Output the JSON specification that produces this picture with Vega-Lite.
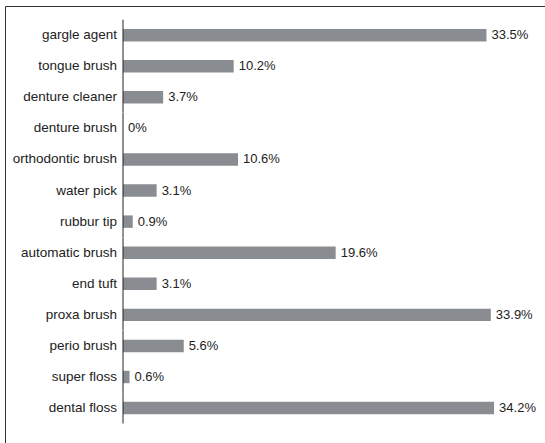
{
  "$schema": "https://vega.github.io/schema/vega-lite/v6.json",
  "width": 543,
  "height": 440,
  "autosize": {"type": "none"},
  "padding": {"left": 5, "top": 6, "right": -3, "bottom": -3},
  "background": "white",
  "config": {
    "view": {"stroke": "#333333", "strokeWidth": 1},
    "font": "Liberation Sans"
  },
  "data": {
    "values": [
      {"item": "gargle agent", "pct": 33.5, "label": "33.5%"},
      {"item": "tongue brush", "pct": 10.2, "label": "10.2%"},
      {"item": "denture cleaner", "pct": 3.7, "label": "3.7%"},
      {"item": "denture brush", "pct": 0, "label": "0%"},
      {"item": "orthodontic brush", "pct": 10.6, "label": "10.6%"},
      {"item": "water pick", "pct": 3.1, "label": "3.1%"},
      {"item": "rubbur tip", "pct": 0.9, "label": "0.9%"},
      {"item": "automatic brush", "pct": 19.6, "label": "19.6%"},
      {"item": "end tuft", "pct": 3.1, "label": "3.1%"},
      {"item": "proxa brush", "pct": 33.9, "label": "33.9%"},
      {"item": "perio brush", "pct": 5.6, "label": "5.6%"},
      {"item": "super floss", "pct": 0.6, "label": "0.6%"},
      {"item": "dental floss", "pct": 34.2, "label": "34.2%"}
    ]
  },
  "encoding": {
    "y": {
      "field": "item",
      "type": "nominal",
      "sort": null,
      "axis": null,
      "scale": {"paddingInner": 0.6, "paddingOuter": 0.88, "align": 0.42}
    }
  },
  "layer": [
    {
      "mark": {"type": "bar", "color": "#898d92"},
      "encoding": {
        "x": {
          "field": "pct",
          "type": "quantitative",
          "scale": {"domain": [-10.876, 39.17], "nice": false, "zero": false},
          "axis": null
        }
      }
    },
    {
      "mark": {"type": "tick", "orient": "vertical", "size": 31, "thickness": 1, "color": "#222222", "opacity": 1},
      "encoding": {"x": {"datum": 0}}
    },
    {
      "mark": {"type": "text", "align": "left", "baseline": "middle", "dx": 5, "fontSize": 13, "color": "#222222"},
      "encoding": {
        "x": {"field": "pct", "type": "quantitative"},
        "text": {"field": "label"}
      }
    },
    {
      "mark": {"type": "text", "align": "right", "baseline": "middle", "dx": -6, "fontSize": 13.5, "color": "#222222"},
      "encoding": {
        "x": {"datum": 0},
        "text": {"field": "item"}
      }
    }
  ]
}
